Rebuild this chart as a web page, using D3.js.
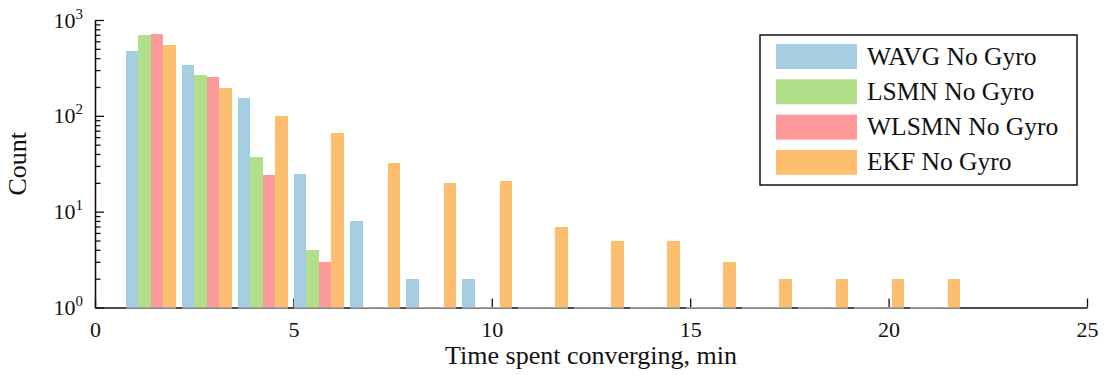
<!DOCTYPE html>
<html>
<head>
<meta charset="utf-8">
<script src="https://cdn.jsdelivr.net/npm/d3@7"></script>
<style>
    body { margin: 0; background: #fff; }
</style>
</head>
<body>
<div id="chart"></div>
<script>
// bin centres (min) and counts
const binCenters = [1.41, 2.82, 4.23, 5.64, 7.06, 8.47, 9.88, 11.29, 12.70, 14.11, 15.52, 16.93, 18.35, 19.76, 21.17];
const seriesNames = ["WAVG No Gyro", "LSMN No Gyro", "WLSMN No Gyro", "EKF No Gyro"];
const seriesColors = ["#a6cee3", "#b2df8a", "#fb9a99", "#fdbf6f"];
const wavgCounts  = [474, 339, 153, 25, 8, 2, 2, 0, 0, 0, 0, 0, 0, 0, 0];
const lsmnCounts  = [697, 266, 37, 4, 0, 0, 0, 0, 0, 0, 0, 0, 0, 0, 0];
const wlsmnCounts = [714, 254, 24, 3, 0, 0, 0, 0, 0, 0, 0, 0, 0, 0, 0];
const ekfCounts   = [548, 195, 99, 66, 32, 20, 21, 7, 5, 5, 3, 2, 2, 2, 2];
const xTicks = [0, 5, 10, 15, 20, 25];
const yMajorTicks = [1, 10, 100, 1000];
const yMinorTicks = [2, 3, 4, 5, 6, 7, 8, 9, 20, 30, 40, 50, 60, 70, 80, 90, 200, 300, 400, 500, 600, 700, 800, 900];

const allCounts = [wavgCounts, lsmnCounts, wlsmnCounts, ekfCounts];
const fontFamily = "'Liberation Serif', 'DejaVu Serif', serif";

const margin = { top: 20, right: 18, bottom: 67.5, left: 95 };
const width = 1105 - margin.left - margin.right;
const height = 375 - margin.top - margin.bottom;

const svg = d3.select("#chart")
    .append("svg")
    .attr("width", 1105)
    .attr("height", 375)
    .append("g")
    .attr("transform", `translate(${margin.left},${margin.top})`);

// 比例尺
const x = d3.scaleLinear().domain([0, 25]).range([0, width]);
const y = d3.scaleLog().domain([1, 1000]).range([height, 0]);

const groupWidth = 1.26;
const sub = d3.scaleBand().domain(seriesNames).range([-groupWidth / 2, groupWidth / 2]);

// x axis (ticks point inward)
const xAxis = svg.append("g")
    .attr("transform", `translate(0,${height})`)
    .call(d3.axisBottom(x).tickValues(xTicks).tickSize(-9).tickSizeOuter(0).tickPadding(14).tickFormat(d3.format("d")));
xAxis.attr("font-family", fontFamily).attr("font-size", 22);

// bars
const rows = binCenters.flatMap((c, i) => seriesNames.map((s, j) => ({
    center: c, series: s, value: allCounts[j][i], color: seriesColors[j]
})));

svg.selectAll("rect.bar")
    .data(rows)
    .enter()
    .append("rect")
    .attr("class", "bar")
    .attr("x", d => x(d.center + sub(d.series)))
    .attr("width", x(sub.bandwidth()) - x(0))
    .attr("y", d => d.value > 0 ? y(d.value) : height - 1)
    .attr("height", d => d.value > 0 ? height - y(d.value) : 1)
    .attr("fill", d => d.color)
    .attr("shape-rendering", "crispEdges");

// grey bar baselines
svg.selectAll("line.base")
    .data(binCenters)
    .enter()
    .append("line")
    .attr("x1", d => x(d - groupWidth / 2))
    .attr("x2", d => x(d + groupWidth / 2))
    .attr("y1", height + 0.5)
    .attr("y2", height + 0.5)
    .attr("stroke", "#999")
    .attr("stroke-width", 1.3);

// y axis, minor then major ticks
svg.append("g")
    .call(d3.axisLeft(y).tickValues(yMinorTicks).tickSize(-5.5).tickSizeOuter(0).tickFormat(""));

const yAxis = svg.append("g")
    .call(d3.axisLeft(y).tickValues(yMajorTicks).tickSize(-9).tickSizeOuter(0).tickPadding(12).tickFormat(""));
yAxis.attr("font-family", fontFamily).attr("font-size", 22);

yAxis.selectAll(".tick text")
    .each(function(d) {
        const t = d3.select(this);
        t.append("tspan").text("10");
        t.append("tspan").attr("font-size", 15).attr("dy", -9).text(Math.round(Math.log10(d)));
    });

svg.selectAll(".domain, .tick line")
    .attr("stroke", "#111")
    .attr("stroke-width", 1.3);
svg.selectAll(".tick text").attr("fill", "#111");

// axis titles
svg.append("text")
    .attr("x", width / 2)
    .attr("y", height + 56.5)
    .attr("text-anchor", "middle")
    .attr("font-family", fontFamily)
    .attr("font-size", 26)
    .attr("fill", "#111")
    .text("Time spent converging, min");

svg.append("text")
    .attr("transform", `translate(${-95 + 26},${height / 2}) rotate(-90)`)
    .attr("text-anchor", "middle")
    .attr("font-family", fontFamily)
    .attr("font-size", 26)
    .attr("fill", "#111")
    .text("Count");

// legend
const legend = svg.append("g").attr("transform", `translate(${760 - margin.left},${35 - margin.top})`);
legend.append("rect")
    .attr("width", 317)
    .attr("height", 150)
    .attr("fill", "#fff")
    .attr("stroke", "#111")
    .attr("stroke-width", 1.5);

const items = legend.selectAll("g.item")
    .data(seriesNames)
    .enter()
    .append("g")
    .attr("transform", (d, i) => `translate(16,${9 + i * 35.3})`);

items.append("rect")
    .attr("width", 81)
    .attr("height", 25)
    .attr("fill", (d, i) => seriesColors[i]);

items.append("text")
    .attr("x", 91)
    .attr("y", 20.5)
    .attr("font-family", fontFamily)
    .attr("font-size", 25.5)
    .attr("fill", "#111")
    .text(d => d);
</script>
</body>
</html>
